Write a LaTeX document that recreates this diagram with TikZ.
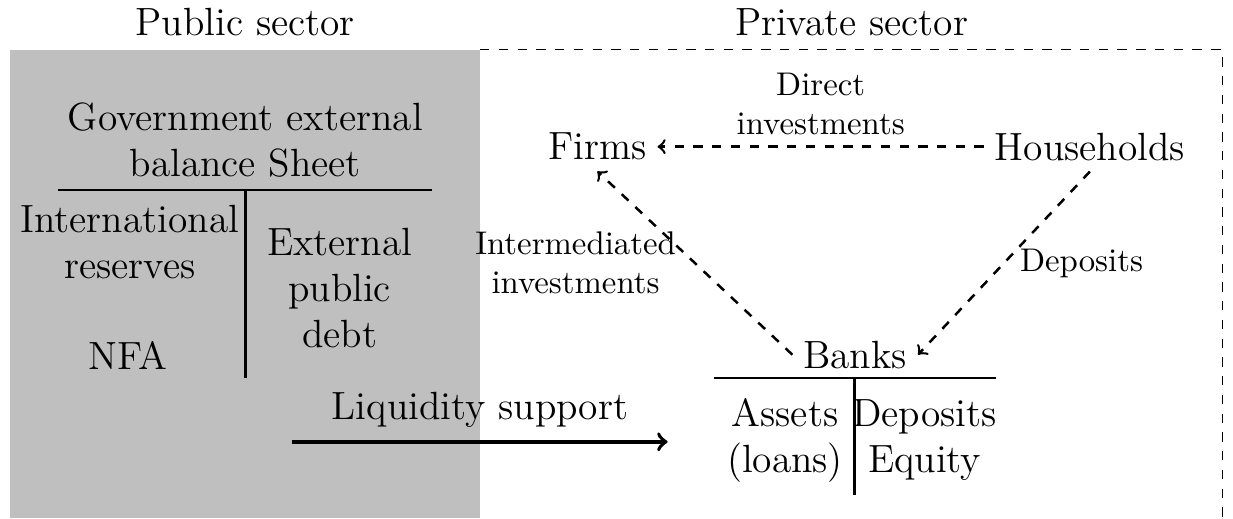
\documentclass[tikz,border=0pt]{standalone}
\usepackage{tikz}
\usetikzlibrary{calc, positioning}

\begin{document}
\begin{tikzpicture}[
		sheet/.style={font=\fontsize{12.6}{14.7}\selectfont, align=center},
		flowlabel/.style={font=\fontsize{10.5}{12.4}\selectfont, align=center},
		flow/.style={thick, dashed, ->}
	]
			\def\W{13.87};
			\def\H{5.83};
			\def\split{5.40};

			\useasboundingbox (0,0) rectangle (\W,-\H);

			% sectors
			\begin{scope}[dashed]
				\draw (\split,-0.56) -- (13.75,-0.56) -- (13.75,-\H);
			\end{scope}
			\fill[gray!50] (0.11,-0.56) rectangle (\split,-\H);

			\node[sheet] (pubtitle) at (2.76,-0.25) {Public sector};
			\node[sheet] (privtitle) at (9.58,-0.25) {Private sector};

			% government balance sheet
			\begin{scope}[thick]
				\draw (0.65,-2.14) -- (4.86,-2.14);
				\draw (2.76,-2.14) -- (2.76,-4.25);
			\end{scope}

			\node[sheet] (govtitle) at (2.76,-1.58) {Government external\\balance Sheet};
			\node[sheet] (reserves) at (1.46,-2.72) {International\\reserves};
			\node[sheet] (nfa) at (1.44,-4.0) {NFA};
			\node[sheet] (pubdebt) at (3.82,-3.24) {External\\public\\debt};

			% liquidity support
			\coordinate (liqstart) at (3.28,-4.97);
			\coordinate (liqend) at (7.51,-4.97);
			\node[sheet] (liqlabel) at (5.40,-4.61) {Liquidity support};
			\draw[very thick, ->] (liqstart) -- (liqend);

			% private agents
			\node[sheet] (firms) at (6.72,-1.65) {Firms};
			\node[sheet] (households) at (12.26,-1.65) {Households};
			\node[sheet] (banks) at (9.62,-3.99) {Banks};

			% bank balance sheet
			\begin{scope}[thick]
				\draw (8.03,-4.25) -- (11.2,-4.25);
				\draw (9.61,-4.25) -- (9.61,-5.57);
			\end{scope}

			\node[sheet] (assets) at (8.83,-4.95) {Assets\\(loans)};
			\node[sheet] (liabilities) at (10.40,-4.95) {Deposits\\Equity};

			% flows
			\draw[flow] (households.west) -- (firms.east)
				node [midway, above, flowlabel] {Direct\\investments};
			\draw[flow] (banks.west) -- (firms.south)
				node [midway, left=0.2cm, flowlabel, inner sep=0pt] {Intermediated\\investments};
			\draw[flow] (households.south) -- (banks.east)
				node [midway, right=0.05cm, flowlabel] {Deposits};
		\end{tikzpicture}
\end{document}
